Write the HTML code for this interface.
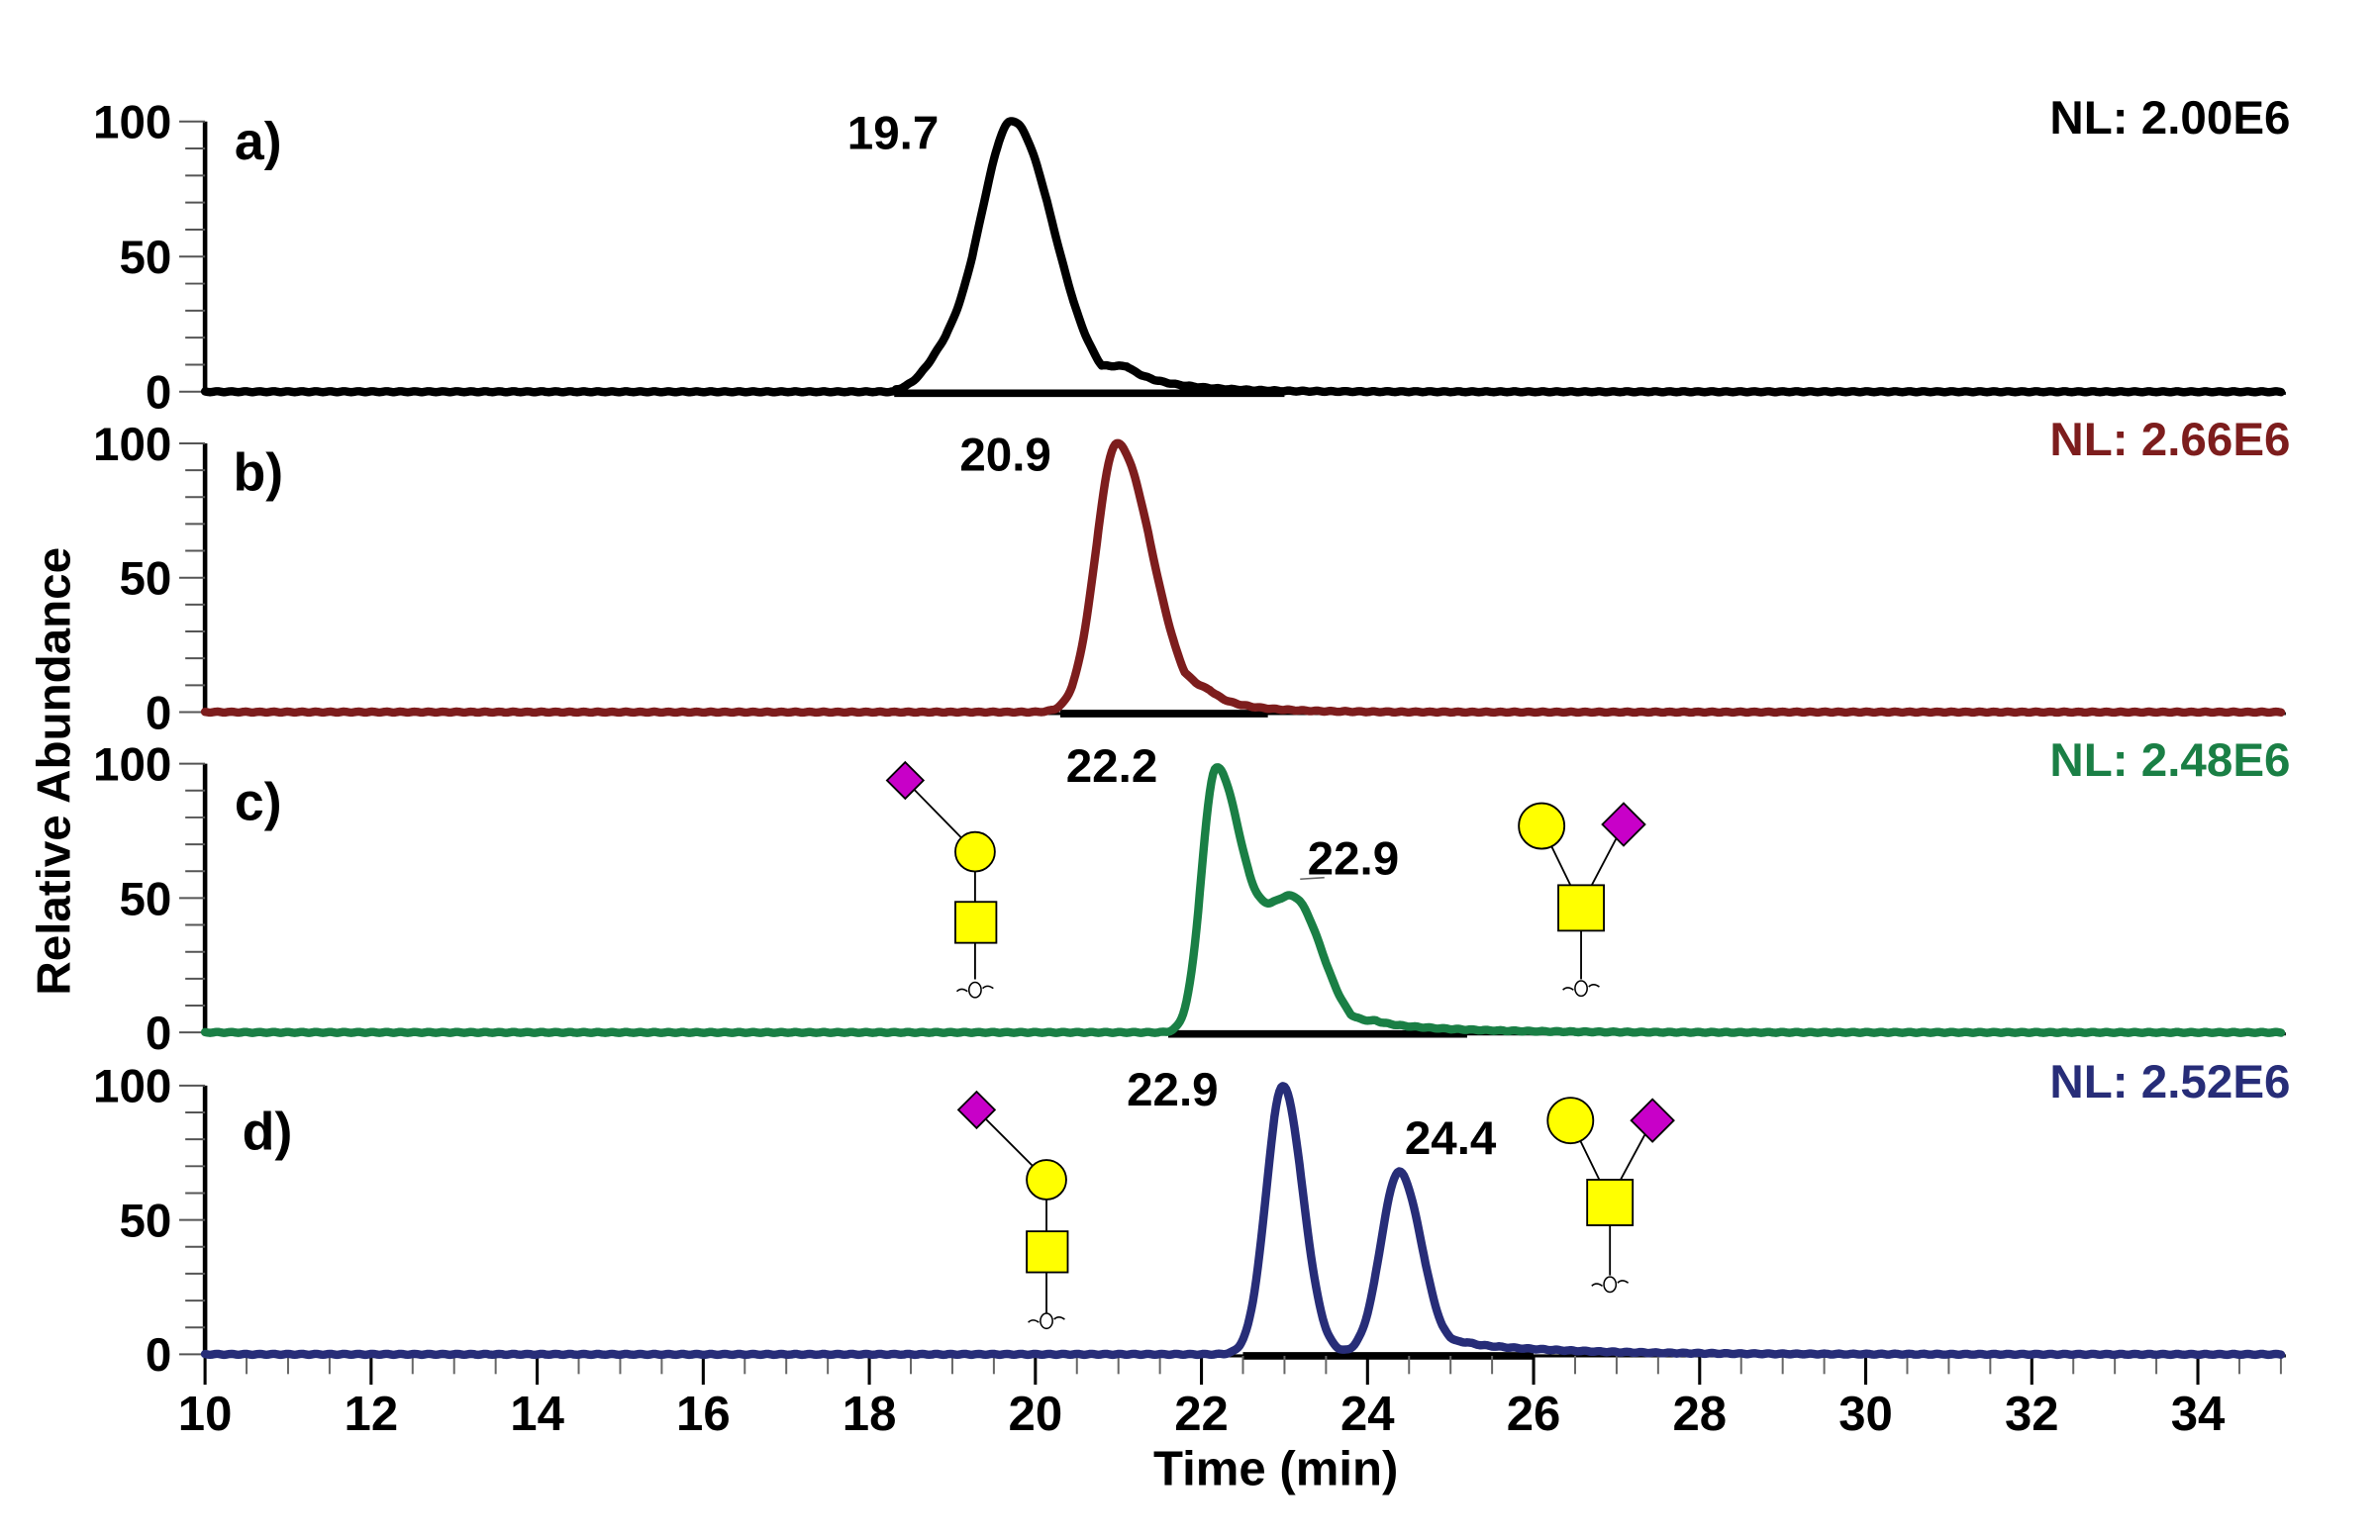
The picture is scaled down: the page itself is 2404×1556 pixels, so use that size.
<!DOCTYPE html>
<html><head><meta charset="utf-8"><style>
html,body{margin:0;padding:0;background:#fff;}
svg{display:block;}
text{font-family:"Liberation Sans",Arial,sans-serif;font-weight:bold;}
</style></head><body>
<svg id="s" width="2404" height="1556" viewBox="0 0 1567 1014.3" preserveAspectRatio="none" xmlns="http://www.w3.org/2000/svg">
<g id="axes" stroke="#000" fill="none"></g>
<g id="traces" fill="none" stroke-linejoin="round" stroke-linecap="round"></g>
<g id="txt"></g>
<g stroke="#000" stroke-width="1.2">
<line x1="596" y1="514" x2="642" y2="561"/><line x1="642" y1="561" x2="642" y2="645"/>
<polygon points="596,502 608,514 596,526 584,514" fill="#c800c8"/>
<circle cx="642" cy="561" r="13" fill="#ffff00"/>
<rect x="629" y="594" width="27" height="27" fill="#ffff00"/>
<line x1="1015" y1="544" x2="1034" y2="583"/><line x1="1069" y1="543" x2="1048" y2="583"/><line x1="1041" y1="598" x2="1041" y2="645"/>
<circle cx="1015" cy="544" r="15" fill="#ffff00"/>
<polygon points="1069,529 1083,543 1069,557 1055,543" fill="#c800c8"/>
<rect x="1026" y="583" width="30" height="30" fill="#ffff00"/>
<line x1="643" y1="731" x2="689" y2="777"/><line x1="689" y1="777" x2="689" y2="865"/>
<polygon points="643,719 655,731 643,743 631,731" fill="#c800c8"/>
<circle cx="689" cy="777" r="13" fill="#ffff00"/>
<rect x="676" y="811" width="27" height="27" fill="#ffff00"/>
<line x1="1034" y1="738" x2="1053" y2="777"/><line x1="1088" y1="738" x2="1067" y2="777"/><line x1="1060" y1="792" x2="1060" y2="840"/>
<circle cx="1034" cy="738" r="15" fill="#ffff00"/>
<polygon points="1088,724 1102,738 1088,752 1074,738" fill="#c800c8"/>
<rect x="1045" y="777" width="30" height="30" fill="#ffff00"/>
</g>
<g stroke="#000" stroke-width="1" fill="#fff">
<ellipse cx="642" cy="652" rx="4" ry="5"/><path d="M630 653 q3 -3 7 0 M647 651 q3 -3 7 0" fill="none"/>
<ellipse cx="1041" cy="651" rx="4" ry="5"/><path d="M1029 652 q3 -3 7 0 M1046 650 q3 -3 7 0" fill="none"/>
<ellipse cx="689" cy="870" rx="4" ry="5"/><path d="M677 871 q3 -3 7 0 M694 869 q3 -3 7 0" fill="none"/>
<ellipse cx="1060" cy="846" rx="4" ry="5"/><path d="M1048 847 q3 -3 7 0 M1065 845 q3 -3 7 0" fill="none"/>
</g>
<line x1="856" y1="579" x2="872" y2="578" stroke="#666" stroke-width="1"/>
</svg>
<script>
var NS="http://www.w3.org/2000/svg";
function el(p,n,a,t){var e=document.createElementNS(NS,n);for(var k in a)e.setAttribute(k,a[k]);if(t!=null)e.textContent=t;document.getElementById(p).appendChild(e);return e;}
function X(t){return 135+(t-10)*54.67;}
var base=[258,469,680,892], top_=[80,292,503,715];
function g(t,m,sl,sr){var s=t<m?sl:sr;return Math.exp(-(t-m)*(t-m)/(2*s*s));}
function tail(t,st,a,k){return t>st?a*Math.exp(-(t-st)/k)*Math.min(1,(t-st)/0.3):0;}
var f=[
 function(t){return g(t,19.72,0.38,0.5)+0.1*g(t,18.9,0.25,0.3)+tail(t,20.8,0.12,0.6);},
 function(t){return g(t,20.98,0.25,0.42)+tail(t,21.8,0.1,0.5);},
 function(t){return 0.95*g(t,22.17,0.17,0.3)+0.5*g(t,23.1,0.4,0.35)+tail(t,23.8,0.05,0.9);},
 function(t){return g(t,22.98,0.2,0.24)+0.68*g(t,24.38,0.22,0.27)+tail(t,24.9,0.05,1.2);}
];
var cols=["#000","#7d1d1d","#1a7f45","#272d78"];
var integ=[[18.3,23],[20.3,22.8],[21.6,25.2],[22.5,26]];
for(var i=0;i<4;i++){
 var b=base[i],tp=top_[i],h=b-tp;
 el("axes","line",{x1:135,y1:tp,x2:135,y2:b,"stroke-width":3});
 for(var k=0;k<=10;k++){var y=b-h*k/10;el("axes","line",{x1:(k%5==0?118:122),y1:y,x2:135,y2:y,"stroke-width":1.3,stroke:"#555"});}
 el("axes","line",{x1:X(integ[i][0]),y1:b+1,x2:X(integ[i][1]),y2:b+1,"stroke-width":5});
 el("axes","line",{x1:135,y1:b+1,x2:1505,y2:b+1,"stroke-width":2});
 [["100",0],["50",50],["0",100]].forEach(function(l){el("txt","text",{x:113,y:tp+h*l[1]/100+11,"font-size":31,"text-anchor":"end"},l[0]);});
}
for(var t=10;t<=35.01;t+=0.5){var maj=Math.abs(t-Math.round(t/2)*2)<0.01;el("axes","line",{x1:X(t),y1:893,x2:X(t),y2:maj?912:905,"stroke-width":maj?2:1.3,stroke:maj?"#000":"#666"});
 if(maj&&t<35)el("txt","text",{x:X(t),y:942,"font-size":32,"text-anchor":"middle"},String(Math.round(t)));}
for(var i=0;i<4;i++){var d="",b=base[i],h=b-top_[i];
 for(var t=10;t<=35;t+=0.02){var v=f[i](t);if(i==0&&t<18.3)v=0;var y=b-h*v+0.3*Math.sin(t*37);d+=(d?"L":"M")+X(t).toFixed(1)+" "+y.toFixed(1);}
 el("traces","path",{d:d,stroke:cols[i],"stroke-width":5.5});}
var T=[[170,105,"a)","#000","middle",35],[170,323,"b)","#000","middle",35],[170,540,"c)","#000","middle",35],[176,757,"d)","#000","middle",35],
[1508,88,"NL: 2.00E6",cols[0],"end",31],[1508,300,"NL: 2.66E6",cols[1],"end",31],[1508,511,"NL: 2.48E6",cols[2],"end",31],[1508,723,"NL: 2.52E6",cols[3],"end",31],
[588,98,"19.7","#000","middle",31],[662,310,"20.9","#000","middle",31],[732,515,"22.2","#000","middle",31],[891,576,"22.9","#000","middle",31],
[772,728,"22.9","#000","middle",31],[955,760,"24.4","#000","middle",31],[840,978,"Time (min)","#000","middle",32]];
T.forEach(function(a){el("txt","text",{x:a[0],y:a[1],fill:a[3],"text-anchor":a[4],"font-size":a[5]},a[2]);});
el("txt","text",{x:0,y:0,"font-size":31,"text-anchor":"middle",transform:"translate(46,508) rotate(-90)"},"Relative Abundance");
</script>
</body></html>
